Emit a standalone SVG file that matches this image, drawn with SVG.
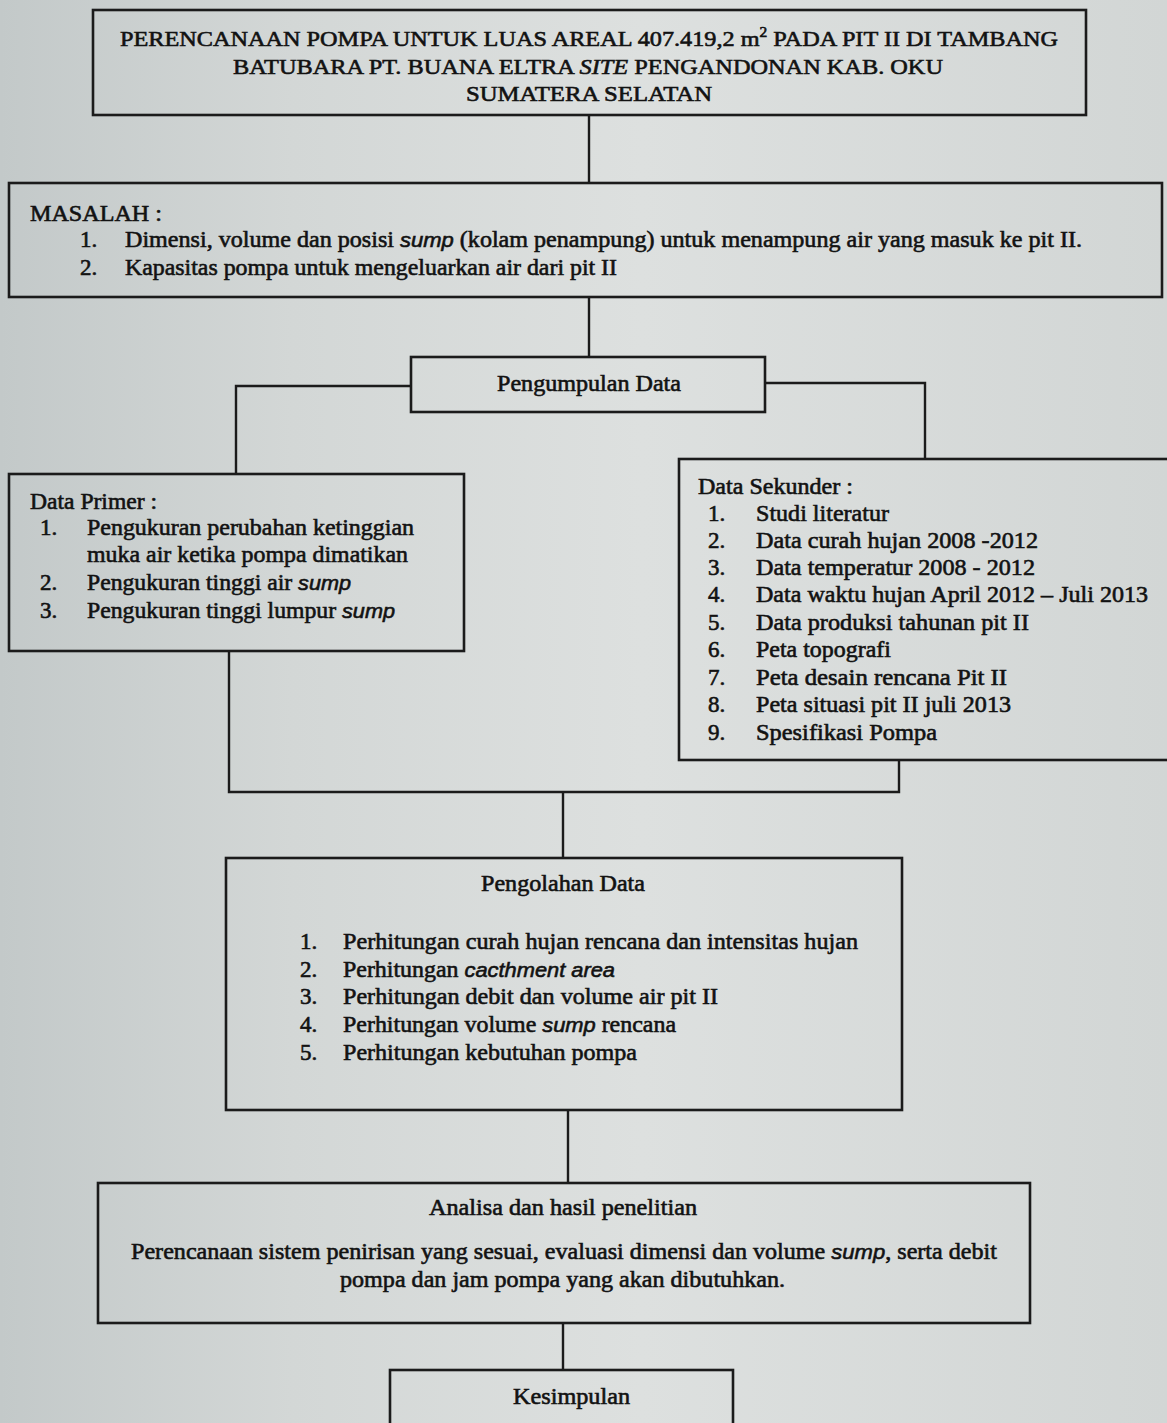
<svg xmlns="http://www.w3.org/2000/svg" width="1167" height="1423" viewBox="0 0 1167 1423">
<style>
.box{fill:none;stroke:#1b1b1b;stroke-width:2.6}
.con{fill:none;stroke:#1b1b1b;stroke-width:2.4}
text{font-family:"Liberation Serif","Times New Roman",serif;font-size:23px;fill:#121212;stroke:#121212;stroke-width:0.6}
.t{font-size:22px}
.i{font-style:italic}
.s{font-style:italic;font-family:"Liberation Sans",Arial,sans-serif;font-size:21px}
</style>
<defs>
<linearGradient id="bg" x1="0" y1="0" x2="1" y2="0">
<stop offset="0" stop-color="#c3c9c9"/>
<stop offset="0.25" stop-color="#d3d7d6"/>
<stop offset="0.55" stop-color="#dde0df"/>
<stop offset="1" stop-color="#d2d6d5"/>
</linearGradient>
</defs>
<rect width="1167" height="1423" fill="url(#bg)"/>
<g id="connectors">
<path class="con" d="M589 115V183"/>
<path class="con" d="M589 297V357"/>
<path class="con" d="M411 386H236V474"/>
<path class="con" d="M765 383H925V459"/>
<path class="con" d="M229 651V792H899V760"/>
<path class="con" d="M563 792V858"/>
<path class="con" d="M568 1110V1183"/>
<path class="con" d="M563 1323V1370"/>
</g>
<g id="title">
<rect class="box" x="93" y="10" width="993" height="105"/>
<text class="t" x="120" y="46" textLength="938" lengthAdjust="spacingAndGlyphs">PERENCANAAN POMPA UNTUK LUAS AREAL 407.419,2 m<tspan font-size="14" dy="-9">2</tspan><tspan dy="9"> PADA PIT II DI TAMBANG</tspan></text>
<text class="t" x="233" y="74" textLength="710" lengthAdjust="spacingAndGlyphs">BATUBARA PT. BUANA ELTRA <tspan class="i">SITE</tspan> PENGANDONAN KAB. OKU</text>
<text class="t" x="466" y="101" textLength="246" lengthAdjust="spacingAndGlyphs">SUMATERA SELATAN</text>
</g>
<g id="masalah">
<rect class="box" x="9" y="183" width="1153" height="114"/>
<text x="30" y="221" textLength="132" lengthAdjust="spacingAndGlyphs">MASALAH :</text>
<text x="80" y="247">1.</text>
<text x="125" y="247" textLength="957" lengthAdjust="spacingAndGlyphs">Dimensi, volume dan posisi <tspan class="s">sump</tspan> (kolam penampung) untuk menampung  air yang masuk ke pit II.</text>
<text x="80" y="275">2.</text>
<text x="125" y="275" textLength="492" lengthAdjust="spacingAndGlyphs">Kapasitas pompa untuk mengeluarkan air dari pit II</text>
</g>
<g id="pengumpulan">
<rect class="box" x="411" y="357" width="354" height="55"/>
<text x="497" y="391" textLength="184" lengthAdjust="spacingAndGlyphs">Pengumpulan Data</text>
</g>
<g id="data-primer">
<rect class="box" x="9" y="474" width="455" height="177"/>
<text x="30" y="509" textLength="127" lengthAdjust="spacingAndGlyphs">Data Primer :</text>
<text x="40" y="535">1.</text>
<text x="87" y="535" textLength="327" lengthAdjust="spacingAndGlyphs">Pengukuran perubahan ketinggian</text>
<text x="87" y="562" textLength="321" lengthAdjust="spacingAndGlyphs">muka air ketika pompa dimatikan</text>
<text x="40" y="590">2.</text>
<text x="87" y="590" textLength="264" lengthAdjust="spacingAndGlyphs">Pengukuran tinggi air <tspan class="s">sump</tspan></text>
<text x="40" y="618">3.</text>
<text x="87" y="618" textLength="308" lengthAdjust="spacingAndGlyphs">Pengukuran tinggi lumpur <tspan class="s">sump</tspan></text>
</g>
<g id="data-sekunder">
<rect class="box" x="679" y="459" width="520" height="301"/>
<text x="698" y="494" textLength="155" lengthAdjust="spacingAndGlyphs">Data Sekunder :</text>
<text x="708" y="521">1.</text>
<text x="756" y="521" textLength="133" lengthAdjust="spacingAndGlyphs">Studi literatur</text>
<text x="708" y="548">2.</text>
<text x="756" y="548" textLength="282" lengthAdjust="spacingAndGlyphs">Data curah hujan 2008 -2012</text>
<text x="708" y="575">3.</text>
<text x="756" y="575" textLength="279" lengthAdjust="spacingAndGlyphs">Data temperatur 2008 - 2012</text>
<text x="708" y="602">4.</text>
<text x="756" y="602" textLength="392" lengthAdjust="spacingAndGlyphs">Data waktu hujan April 2012 – Juli 2013</text>
<text x="708" y="630">5.</text>
<text x="756" y="630" textLength="273" lengthAdjust="spacingAndGlyphs">Data produksi tahunan pit II</text>
<text x="708" y="657">6.</text>
<text x="756" y="657" textLength="135" lengthAdjust="spacingAndGlyphs">Peta topografi</text>
<text x="708" y="685">7.</text>
<text x="756" y="685" textLength="251" lengthAdjust="spacingAndGlyphs">Peta  desain rencana Pit II</text>
<text x="708" y="712">8.</text>
<text x="756" y="712" textLength="255" lengthAdjust="spacingAndGlyphs">Peta situasi pit II juli 2013</text>
<text x="708" y="740">9.</text>
<text x="756" y="740" textLength="181" lengthAdjust="spacingAndGlyphs">Spesifikasi Pompa</text>
</g>
<g id="pengolahan">
<rect class="box" x="226" y="858" width="676" height="252"/>
<text x="481" y="891" textLength="164" lengthAdjust="spacingAndGlyphs">Pengolahan Data</text>
<text x="300" y="949">1.</text>
<text x="343" y="949" textLength="515" lengthAdjust="spacingAndGlyphs">Perhitungan curah hujan rencana dan intensitas hujan</text>
<text x="300" y="977">2.</text>
<text x="343" y="977" textLength="272" lengthAdjust="spacingAndGlyphs">Perhitungan <tspan class="s">cacthment area</tspan></text>
<text x="300" y="1004">3.</text>
<text x="343" y="1004" textLength="375" lengthAdjust="spacingAndGlyphs">Perhitungan debit dan volume air pit II</text>
<text x="300" y="1032">4.</text>
<text x="343" y="1032" textLength="333" lengthAdjust="spacingAndGlyphs">Perhitungan volume <tspan class="s">sump</tspan> rencana</text>
<text x="300" y="1060">5.</text>
<text x="343" y="1060" textLength="294" lengthAdjust="spacingAndGlyphs">Perhitungan kebutuhan pompa</text>
</g>
<g id="analisa">
<rect class="box" x="98" y="1183" width="932" height="140"/>
<text x="429" y="1215" textLength="268" lengthAdjust="spacingAndGlyphs">Analisa dan hasil penelitian</text>
<text x="131" y="1259" textLength="866" lengthAdjust="spacingAndGlyphs">Perencanaan sistem penirisan yang sesuai, evaluasi dimensi dan volume <tspan class="s">sump</tspan>, serta debit</text>
<text x="340" y="1287" textLength="445" lengthAdjust="spacingAndGlyphs">pompa dan jam pompa yang akan dibutuhkan.</text>
</g>
<g id="kesimpulan">
<rect class="box" x="390" y="1370" width="343" height="90"/>
<text x="513" y="1404" textLength="117" lengthAdjust="spacingAndGlyphs">Kesimpulan</text>
</g>
</svg>
